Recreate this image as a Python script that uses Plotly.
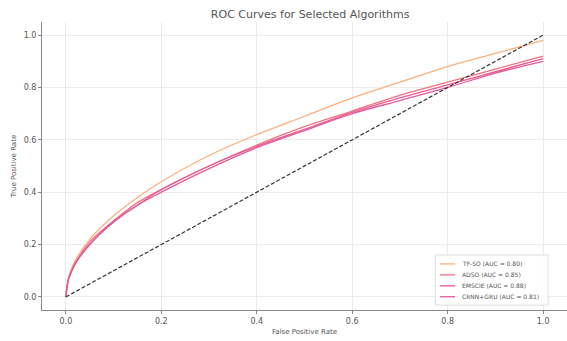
import plotly.graph_objects as go

fpr = [0, 0.005, 0.01, 0.02, 0.05, 0.1, 0.15, 0.2, 0.3, 0.4, 0.5, 0.6, 0.7, 0.8, 0.9, 1.0]
tpr_tfso = [0, 0.07, 0.10, 0.14, 0.22, 0.31, 0.38, 0.44, 0.54, 0.62, 0.69, 0.76, 0.82, 0.88, 0.93, 0.98]
tpr_adso = [0, 0.065, 0.09, 0.13, 0.21, 0.29, 0.36, 0.41, 0.50, 0.58, 0.65, 0.71, 0.77, 0.82, 0.87, 0.92]
tpr_emscie = [0, 0.064, 0.09, 0.13, 0.20, 0.29, 0.35, 0.41, 0.50, 0.575, 0.64, 0.705, 0.76, 0.81, 0.86, 0.91]
tpr_crnn = [0, 0.064, 0.09, 0.127, 0.20, 0.285, 0.35, 0.40, 0.49, 0.57, 0.635, 0.70, 0.75, 0.80, 0.855, 0.90]
diag = [0, 1]

names = ["TF-SO (AUC = 0.80)", "ADSO (AUC = 0.85)", "EMSCIE (AUC = 0.88)", "CRNN+GRU (AUC = 0.81)"]
series = [tpr_tfso, tpr_adso, tpr_emscie, tpr_crnn]
colors = ["#FBB07F", "#F2717F", "#E9588E", "#DD5C9E"]

font = "DejaVu Sans, sans-serif"

fig = go.Figure()
for n, s, c in zip(names, series, colors):
    fig.add_trace(go.Scatter(x=fpr, y=s, mode="lines", name=n, showlegend=False,
                             line=dict(color=c, width=1.3, shape="spline")))
fig.add_trace(go.Scatter(x=diag, y=diag, mode="lines", showlegend=False,
                         line=dict(color="#333333", width=1.2, dash="4px,2px")))

# compact legend box (drawn in paper coordinates)
lx0, lx1, ly0, ly1 = 0.749, 0.964, 0.017, 0.191
fig.add_shape(type="rect", xref="paper", yref="paper", x0=lx0, x1=lx1, y0=ly0, y1=ly1,
              fillcolor="rgba(255,255,255,0.9)", line=dict(color="#dddddd", width=1))
item_y = [0.160, 0.122, 0.084, 0.046]
for n, c, yy in zip(names, colors, item_y):
    fig.add_shape(type="line", xref="paper", yref="paper", x0=0.758, x1=0.787, y0=yy, y1=yy,
                  line=dict(color=c, width=1.3))
    fig.add_annotation(xref="paper", yref="paper", x=0.797, y=yy, text=n, showarrow=False,
                       xanchor="left", yanchor="middle",
                       font=dict(size=6, color="#555555", family=font))

axis_common = dict(
    showgrid=True, gridcolor="#ebebeb", gridwidth=1,
    showline=True, linecolor="#888888", linewidth=1,
    ticks="outside", ticklen=3, tickcolor="#888888",
    tickfont=dict(size=8, color="#555555", family=font),
    zeroline=False,
)
fig.update_layout(
    width=567, height=341,
    margin=dict(l=42, r=0, t=22, b=31),
    paper_bgcolor="white", plot_bgcolor="white",
    title=dict(text="ROC Curves for Selected Algorithms", x=0.547, xanchor="center",
               y=0.958, yanchor="middle",
               font=dict(size=11, color="#555555", family=font)),
    xaxis=dict(range=[-0.05, 1.05], tickvals=[0, 0.2, 0.4, 0.6, 0.8, 1.0],
               ticktext=["0.0", "0.2", "0.4", "0.6", "0.8", "1.0"],
               title=dict(text="False Positive Rate", standoff=4,
                          font=dict(size=7, color="#555555", family=font)),
               **axis_common),
    yaxis=dict(range=[-0.05, 1.05], tickvals=[0, 0.2, 0.4, 0.6, 0.8, 1.0],
               ticktext=["0.0", "0.2", "0.4", "0.6", "0.8", "1.0"],
               title=dict(text="True Positive Rate", standoff=6,
                          font=dict(size=7, color="#555555", family=font)),
               **axis_common),
    showlegend=False,
)
fig.write_html("out.html")
